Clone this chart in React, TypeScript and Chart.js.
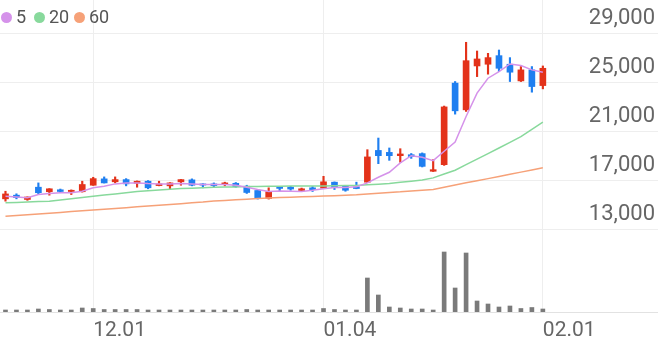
import React, { useEffect, useRef } from 'react';
import { Chart, registerables } from 'chart.js';

Chart.register(...registerables);

const dates = [
  '11.21', '11.22', '11.23', '11.24', '11.27', '11.28', '11.29', '11.30', '12.01', '12.04',
  '12.05', '12.06', '12.07', '12.08', '12.11', '12.12', '12.13', '12.14', '12.15', '12.18',
  '12.19', '12.20', '12.21', '12.22', '12.26', '12.27', '12.28', '01.02', '01.03', '01.04',
  '01.05', '01.08', '01.09', '01.10', '01.11', '01.12', '01.15', '01.16', '01.17', '01.18',
  '01.19', '01.22', '01.23', '01.24', '01.25', '01.26', '01.29', '01.30', '01.31', '02.01',
  '02.02', '02.05', '02.06', '02.07', '02.08', '02.13', '02.14', '02.15', '02.16', '02.19',
];

const tickDates = ['12.01', '01.04', '02.01'];
const priceTicks = [13000, 17000, 21000, 25000, 29000];

const openP = [
  15500, 15800, 15450, 16450, 16080, 16240, 16100, 16080, 16610, 17130,
  16890, 17070, 16770, 16940, 16580, 16560, 16890, 17050, 16720, 16720,
  16670, 16770, 16530, 16180, 15530, 16480, 16450, 16180, 16400, 16370,
  16860, 16530, 16480, 16860, 19450, 19290, 19020, 19100, 19190, 17750,
  18290, 24940, 22760, 26340, 26480, 27180, 26480, 25120, 26020, 24740,
];
const closeP = [
  15900, 15600, 15650, 16000, 16320, 16100, 16200, 16670, 17150, 16800,
  17070, 16720, 16940, 16400, 16720, 16800, 17070, 16610, 16620, 16580,
  16800, 16500, 16020, 15530, 16080, 16350, 16300, 16320, 16250, 16890,
  16420, 16200, 16340, 18920, 19020, 19020, 19160, 18950, 18150, 17880,
  23000, 22680, 26770, 26910, 27020, 26150, 25830, 26020, 24660, 26150,
];
const highP = [
  16120, 15910, 15660, 16800, 16330, 16300, 16230, 16940, 17260, 17290,
  17290, 17150, 16960, 16990, 16940, 16820, 17080, 17130, 16730, 16800,
  16860, 16830, 16610, 16240, 16400, 16500, 16520, 16380, 16500, 17340,
  16880, 16600, 16860, 19510, 20460, 19650, 19590, 19200, 19250, 18700,
  23070, 25070, 28270, 27560, 27370, 27640, 27020, 26290, 26290, 26340,
];
const lowP = [
  15310, 15500, 15380, 15850, 15800, 16000, 15850, 16050, 16600, 16790,
  16800, 16560, 16450, 16320, 16560, 16320, 16610, 16560, 16400, 16480,
  16560, 16450, 15940, 15480, 15480, 16120, 16200, 16120, 16100, 16350,
  16260, 16120, 16320, 16840, 18370, 18640, 18480, 18800, 18100, 17730,
  18230, 22410, 22630, 25470, 25670, 25880, 25070, 25070, 24200, 24470,
];
const volume = [
  40, 40, 40, 60, 50, 40, 40, 80, 70, 50,
  50, 50, 50, 40, 40, 40, 40, 40, 40, 40,
  40, 40, 50, 40, 40, 40, 40, 40, 40, 70,
  50, 40, 40, 680, 340, 100, 80, 60, 60, 40,
  1200, 480, 1180, 220, 160, 100, 120, 70, 90, 60,
];
const ma5 = [
  15720, 15650, 15590, 15850, 15940, 15990, 16000, 16120, 16400, 16530,
  16720, 16800, 16800, 16750, 16720, 16720, 16750, 16720, 16670, 16670,
  16670, 16610, 16450, 16260, 16100, 16150, 16120, 16100, 16200, 16330,
  16430, 16420, 16480, 16800, 17260, 17670, 18430, 19020, 18890, 18620,
  19380, 20140, 22220, 24120, 25340, 25880, 26500, 26370, 26020, 25830,
];
const ma20 = [
  15180, 15210, 15240, 15280, 15310, 15410, 15510, 15610, 15720, 15810,
  15900, 16000, 16100, 16160, 16220, 16290, 16340, 16370, 16410, 16440,
  16460, 16470, 16500, 16510, 16530, 16530, 16540, 16540, 16550, 16550,
  16560, 16580, 16590, 16640, 16690, 16750, 16850, 16940, 17030, 17210,
  17520, 17830, 18290, 18740, 19190, 19650, 20110, 20570, 21170, 21760,
];
const ma60 = [
  14090, 14150, 14210, 14270, 14330, 14390, 14460, 14520, 14590, 14650,
  14720, 14780, 14850, 14910, 14980, 15040, 15110, 15190, 15250, 15330,
  15370, 15420, 15470, 15520, 15570, 15600, 15630, 15670, 15700, 15730,
  15760, 15800, 15830, 15890, 15950, 16020, 16070, 16140, 16200, 16260,
  16440, 16630, 16810, 16980, 17150, 17330, 17500, 17680, 17850, 18030,
];

const maNames = ['5', '20', '60'];
const maColors = ['#d592ea', '#88d99c', '#f6a178'];
const UP = '#e3321a';
const DOWN = '#1f7ff0';
const VOL = '#7a7a7a';

const zeroPad = (s: any) => {
  s.paddingTop = 0;
  s.paddingBottom = 0;
  s.paddingLeft = 0;
  s.paddingRight = 0;
};

export default function App() {
  const ref = useRef<HTMLCanvasElement>(null);

  useEffect(() => {
    const colors = openP.map((o, i) => (closeP[i] >= o ? UP : DOWN));
    const maData = [ma5, ma20, ma60];
    const chart = new Chart(ref.current as HTMLCanvasElement, {
      type: 'bar',
      data: {
        labels: dates,
        datasets: [
          ...maData.map((d, k) => ({
            type: 'line' as const,
            label: maNames[k],
            data: d,
            borderColor: maColors[k],
            backgroundColor: maColors[k],
            borderWidth: 1.5,
            pointRadius: 0,
            tension: 0,
            yAxisID: 'y',
            order: k,
          })),
          {
            type: 'bar' as const,
            label: 'body',
            data: openP.map((o, i) => [o, closeP[i]]),
            backgroundColor: colors,
            barThickness: 6,
            grouped: false,
            minBarLength: 1,
            yAxisID: 'y',
            order: 5,
          },
          {
            type: 'bar' as const,
            label: 'wick',
            data: lowP.map((l, i) => [l, highP[i]]),
            backgroundColor: colors,
            barThickness: 1.5,
            grouped: false,
            yAxisID: 'y',
            order: 6,
          },
          {
            type: 'bar' as const,
            label: 'vol',
            data: volume,
            backgroundColor: VOL,
            barThickness: 4,
            grouped: false,
            yAxisID: 'y2',
            order: 7,
          },
        ],
      } as any,
      options: {
        animation: false,
        responsive: false,
        layout: { padding: 0 },
        plugins: { legend: { display: false }, tooltip: { enabled: false } },
        scales: {
          x: {
            type: 'category',
            offset: true,
            grid: { offset: false, color: '#eeeeee', drawTicks: false },
            border: { display: true, color: '#e2e2e2' },
            ticks: {
              autoSkip: false,
              maxRotation: 0,
              align: 'start',
              color: '#666666',
              font: { family: 'Roboto', size: 21 },
              padding: 6,
            },
            afterBuildTicks: (s: any) => {
              s.ticks = tickDates.map((d) => ({ value: dates.indexOf(d) }));
            },
            afterFit: (s: any) => {
              s.height = 30;
              zeroPad(s);
            },
          },
          y: {
            position: 'right',
            min: 6270,
            max: 31720,
            grid: { color: '#eeeeee', drawTicks: false },
            border: { display: false },
            ticks: {
              mirror: true,
              labelOffset: -15,
              padding: -3,
              color: '#666666',
              font: { family: 'Roboto', size: 22 },
              callback: (v: any) => Number(v).toLocaleString('en-US'),
            },
            afterBuildTicks: (s: any) => {
              s.ticks = priceTicks.map((v) => ({ value: v }));
            },
            afterFit: (s: any) => {
              s.width = 0;
              zeroPad(s);
            },
          },
          y2: { display: false, min: 0, max: 6240 },
        },
      } as any,
    });
    return () => chart.destroy();
  }, []);

  const legendLeft = [1, 34, 74];
  return (
    <div style={{ position: 'fixed', left: 0, top: 0, width: 658, height: 342, background: '#fff' }}>
      <canvas ref={ref} width={658} height={342} style={{ display: 'block', width: 658, height: 342 }} />
      {maNames.map((n, k) => (
        <div
          key={n}
          style={{
            position: 'absolute',
            left: legendLeft[k],
            top: 7,
            height: 20,
            display: 'flex',
            alignItems: 'center',
            fontFamily: 'Roboto',
            fontSize: 18,
            color: '#555',
            lineHeight: '20px',
          }}
        >
          <span style={{ width: 11, height: 11, borderRadius: '50%', background: maColors[k], marginRight: 4, display: 'inline-block' }} />
          <span>{n}</span>
        </div>
      ))}
    </div>
  );
}
